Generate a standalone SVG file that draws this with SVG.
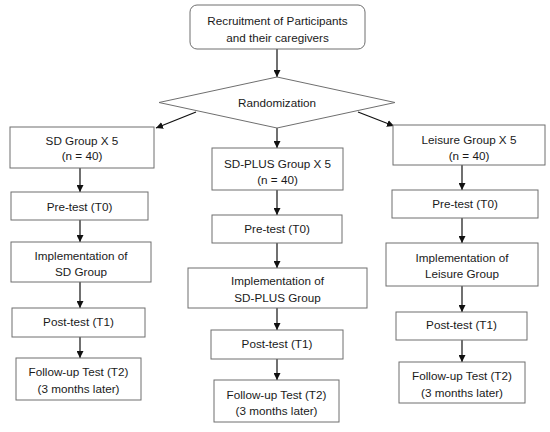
<svg xmlns="http://www.w3.org/2000/svg" width="550" height="432" viewBox="0 0 550 432">
<defs>
<marker id="ah" viewBox="0 0 10 10" refX="10" refY="5" markerWidth="7" markerHeight="7" markerUnits="userSpaceOnUse" orient="auto">
<path d="M0,0 L10,5 L0,10 z" fill="#111"/>
</marker>
<style>
.b{fill:#fff;stroke:#6f6f6f;stroke-width:1}
.t{font-family:"Liberation Sans",Arial,sans-serif;font-size:11.7px;fill:#1a1a1a;text-anchor:middle;dominant-baseline:central}
.c{stroke:#111;stroke-width:1.2;fill:none;marker-end:url(#ah)}
</style>
</defs>
<rect width="550" height="432" fill="#fff"/>
<g id="connectors">
<line class="c" x1="277" y1="49" x2="277" y2="77"/>
<line class="c" x1="196" y1="112" x2="156" y2="128"/>
<line class="c" x1="277" y1="128" x2="277" y2="148"/>
<line class="c" x1="358" y1="112" x2="394" y2="126"/>
<line class="c" x1="80" y1="168" x2="80" y2="192"/>
<line class="c" x1="80" y1="220" x2="80" y2="242"/>
<line class="c" x1="80" y1="282" x2="80" y2="308"/>
<line class="c" x1="80" y1="337" x2="80" y2="358"/>
<line class="c" x1="277" y1="190" x2="277" y2="215"/>
<line class="c" x1="277" y1="243" x2="277" y2="268"/>
<line class="c" x1="277" y1="308" x2="277" y2="330"/>
<line class="c" x1="277" y1="359" x2="277" y2="380"/>
<line class="c" x1="462" y1="165" x2="462" y2="190"/>
<line class="c" x1="462" y1="218" x2="462" y2="243"/>
<line class="c" x1="462" y1="286" x2="462" y2="312"/>
<line class="c" x1="462" y1="340" x2="462" y2="362"/>
</g>
<g id="recruitment">
<rect class="b" x="190" y="5" width="175" height="44" rx="7"/>
<text class="t" x="277.5" y="20">Recruitment of Participants</text>
<text class="t" x="277.5" y="37">and their caregivers</text>
</g>
<g id="randomization">
<polygon class="b" points="277,77 395,102.5 277,128 159,102.5"/>
<text class="t" x="277" y="102.5">Randomization</text>
</g>
<g id="sd-group">
<rect class="b" x="10" y="127" width="144" height="41"/>
<text class="t" x="82" y="140">SD Group X 5</text>
<text class="t" x="82" y="155">(n = 40)</text>
</g>
<g id="sd-pretest">
<rect class="b" x="11" y="192" width="137" height="28"/>
<text class="t" x="79.5" y="206">Pre-test (T0)</text>
</g>
<g id="sd-impl">
<rect class="b" x="11" y="242" width="140" height="40"/>
<text class="t" x="81" y="255">Implementation of</text>
<text class="t" x="81" y="271">SD Group</text>
</g>
<g id="sd-posttest">
<rect class="b" x="12" y="308" width="133" height="29"/>
<text class="t" x="78.5" y="321.5">Post-test (T1)</text>
</g>
<g id="sd-followup">
<rect class="b" x="16" y="358" width="125" height="42"/>
<text class="t" x="78.5" y="371">Follow-up Test (T2)</text>
<text class="t" x="78.5" y="388">(3 months later)</text>
</g>
<g id="plus-group">
<rect class="b" x="212" y="148" width="131" height="42"/>
<text class="t" x="277.5" y="163">SD-PLUS Group X 5</text>
<text class="t" x="277.5" y="179">(n = 40)</text>
</g>
<g id="plus-pretest">
<rect class="b" x="212" y="215" width="130" height="28"/>
<text class="t" x="277" y="228.5">Pre-test (T0)</text>
</g>
<g id="plus-impl">
<rect class="b" x="188" y="268" width="179" height="40"/>
<text class="t" x="277.5" y="280.5">Implementation of</text>
<text class="t" x="277.5" y="297">SD-PLUS Group</text>
</g>
<g id="plus-posttest">
<rect class="b" x="211" y="330" width="132" height="29"/>
<text class="t" x="277" y="343">Post-test (T1)</text>
</g>
<g id="plus-followup">
<rect class="b" x="214" y="380" width="125" height="42"/>
<text class="t" x="276.5" y="394">Follow-up Test (T2)</text>
<text class="t" x="276.5" y="410">(3 months later)</text>
</g>
<g id="leisure-group">
<rect class="b" x="393" y="125" width="152" height="40"/>
<text class="t" x="469" y="139">Leisure Group X 5</text>
<text class="t" x="469" y="155">(n = 40)</text>
</g>
<g id="leisure-pretest">
<rect class="b" x="392" y="190" width="146" height="28"/>
<text class="t" x="465" y="203.5">Pre-test (T0)</text>
</g>
<g id="leisure-impl">
<rect class="b" x="386" y="243" width="152" height="43"/>
<text class="t" x="462" y="257">Implementation of</text>
<text class="t" x="462" y="273">Leisure Group</text>
</g>
<g id="leisure-posttest">
<rect class="b" x="396" y="312" width="131" height="28"/>
<text class="t" x="461.5" y="324.5">Post-test (T1)</text>
</g>
<g id="leisure-followup">
<rect class="b" x="399" y="362" width="126" height="41"/>
<text class="t" x="462" y="375">Follow-up Test (T2)</text>
<text class="t" x="462" y="392">(3 months later)</text>
</g>
</svg>
